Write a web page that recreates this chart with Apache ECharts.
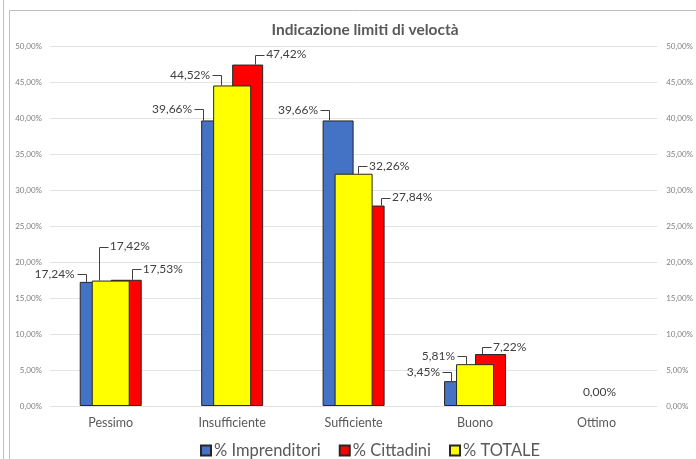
<!DOCTYPE html>
<html>
<head>
<meta charset="utf-8">
<script src="https://cdn.jsdelivr.net/npm/echarts@6/dist/echarts.min.js"></script>
<style>
  html, body { margin: 0; padding: 0; background: #fff; }
  #chart { width: 696px; height: 459px; }
</style>
</head>
<body>
<div id="chart"></div>
<script>
const categories = ['Pessimo', 'Insufficiente', 'Sufficiente', 'Buono', 'Ottimo'];
const imprenditori = [17.24, 39.66, 39.66, 3.45, 0];
const cittadini = [17.53, 47.42, 27.84, 7.22, 0];
const totale = [17.42, 44.52, 32.26, 5.81, 0];
const yTicks = { min: 0, max: 50, interval: 5 };

// callout layout per series/category: [leader x from category centre, label y from bar top, side]
// side: -1 text to the left, 1 text to the right, 0 plain label (no leader), null = no label
const calloutImp = [[-25, -8, -1], [-29, -11, -1], [-24.5, -10, -1], [-24, -9, -1], null];
const calloutCit = [[21, -11, 1], [23, -10, 1], [27.5, -8, 1], [7, -7, 1], null];
const calloutTot = [[-12, -34, 1], [-11, -10, -1], [4.5, -8, 1], [-9, -8, -1], [3, -14, 0]];

const fmt = v => v.toFixed(2).replace('.', ',') + '%';
const textColor = '#404040';

const chart = echarts.init(document.getElementById('chart'));

const toData = arr => arr.map(v => v !== 0 ? v : { value: v, itemStyle: { borderWidth: 0 } });

const callouts = [calloutImp, calloutCit, calloutTot];
const labelRows = [];
[imprenditori, cittadini, totale].forEach((arr, s) => {
  arr.forEach((v, i) => {
    if (callouts[s][i]) labelRows.push([i, v, s]);
  });
});

function renderCallout(params, api) {
  const i = api.value(0);
  const v = api.value(1);
  const s = api.value(2);
  const c = callouts[s][i];
  const p = api.coord([i, v]);
  const x0 = p[0] + c[0];
  const yTop = p[1];
  const yl = yTop + c[1];
  const side = c[2];
  const text = fmt(v);
  const font = '12px Lato';
  if (side === 0) {
    return {
      type: 'text',
      style: { text, x: x0, y: yl, align: 'center', verticalAlign: 'middle', fill: textColor, font }
    };
  }
  const hLen = 9;
  const x1 = x0 + side * hLen;
  return {
    type: 'group',
    children: [
      {
        type: 'polyline',
        shape: { points: [[Math.round(x0) + 0.5, yTop], [Math.round(x0) + 0.5, Math.round(yl) + 0.5], [Math.round(x1) + 0.5, Math.round(yl) + 0.5]] },
        style: { stroke: '#404040', lineWidth: 1, fill: null }
      },
      {
        type: 'text',
        style: {
          text, x: x1 + side * 2, y: yl,
          align: side < 0 ? 'right' : 'left',
          verticalAlign: 'middle', fill: textColor, font
        }
      }
    ]
  };
}

const option = {
  animation: false,
  backgroundColor: '#fff',
  textStyle: { fontFamily: 'Lato' },
  graphic: [
    { type: 'line', shape: { x1: 3.5, y1: 0, x2: 3.5, y2: 459 }, style: { stroke: '#bfbfbf', lineWidth: 1 } },
    { type: 'polyline', shape: { points: [[9.5, 459], [9.5, 10.5], [696, 10.5]] }, style: { stroke: '#bfbfbf', fill: null, lineWidth: 1 } }
  ],
  title: {
    text: 'Indicazione limiti di veloctà',
    left: 360,
    textAlign: 'center',
    top: 17,
    textStyle: { fontFamily: 'Lato', fontSize: 15.5, fontWeight: 'bold', color: '#595959' }
  },
  legend: {
    left: 195,
    top: 437,
    itemWidth: 10,
    itemHeight: 10,
    itemGap: 18,
    icon: 'rect',
    textStyle: { fontFamily: 'Lato', fontSize: 16.5, color: '#595959', padding: [0, 0, 0, -2] },
    data: ['% Imprenditori', '% Cittadini', '% TOTALE']
  },
  grid: { left: 50, right: 33, top: 46, bottom: 53 },
  xAxis: [
    {
      type: 'category',
      data: categories,
      axisLine: { show: false },
      axisTick: { show: false },
      axisLabel: { color: '#595959', fontSize: 12.5, fontFamily: 'Lato', margin: 10 }
    },
    { type: 'category', data: categories, show: false }
  ],
  yAxis: [
    {
      type: 'value',
      min: yTicks.min, max: yTicks.max, interval: yTicks.interval,
      axisLabel: { color: '#7f7f7f', fontSize: 8, fontFamily: 'Lato', margin: 8, formatter: v => fmt(v) },
      splitLine: { lineStyle: { color: '#e3e3e3', width: 1 } },
      axisLine: { show: false },
      axisTick: { show: false }
    },
    {
      type: 'value',
      position: 'right',
      min: yTicks.min, max: yTicks.max, interval: yTicks.interval,
      axisLabel: { color: '#7f7f7f', fontSize: 8, fontFamily: 'Lato', margin: 9, formatter: v => fmt(v) },
      splitLine: { show: false },
      axisLine: { show: false },
      axisTick: { show: false }
    }
  ],
  series: [
    {
      name: '% Imprenditori',
      type: 'bar',
      xAxisIndex: 0,
      yAxisIndex: 0,
      barWidth: 31,
      barGap: '0%',
      data: toData(imprenditori),
      itemStyle: { color: '#4472C4', borderColor: '#262626', borderWidth: 1 }
    },
    {
      name: '% Cittadini',
      type: 'bar',
      xAxisIndex: 0,
      yAxisIndex: 0,
      barWidth: 31,
      barGap: '0%',
      data: toData(cittadini),
      itemStyle: { color: '#FF0000', borderColor: '#262626', borderWidth: 1 }
    },
    {
      name: '% TOTALE',
      type: 'bar',
      xAxisIndex: 1,
      yAxisIndex: 1,
      barWidth: 38,
      data: toData(totale),
      itemStyle: { color: '#FFFF00', borderColor: '#262626', borderWidth: 1 }
    },
    {
      name: 'etichette',
      type: 'custom',
      xAxisIndex: 0,
      yAxisIndex: 0,
      z: 10,
      silent: true,
      data: labelRows,
      renderItem: renderCallout
    }
  ]
};

chart.setOption(option);
</script>
</body>
</html>
